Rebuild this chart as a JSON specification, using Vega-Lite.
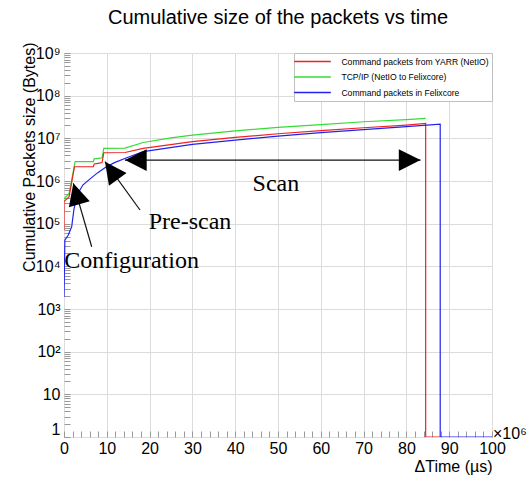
{
  "$schema": "https://vega.github.io/schema/vega-lite/v6.json",
  "width": 428,
  "height": 384,
  "autosize": {"type": "none"},
  "padding": {"left": 64, "top": 53, "right": 38, "bottom": 41},
  "background": "white",
  "title": {"text": "Cumulative size of the packets vs time", "font": "Liberation Sans", "fontSize": 20, "fontWeight": "normal", "color": "#000", "anchor": "middle", "frame": "group", "offset": 14},
  "config": {
    "view": {"stroke": "#b4b4b4", "strokeWidth": 1},
    "axis": {"labelFont": "Liberation Sans", "labelFontSize": 16, "labelColor": "#000", "titleFont": "Liberation Sans", "titleFontSize": 16, "titleFontWeight": "normal", "titleColor": "#000", "gridColor": "#dcdcdc", "tickColor": "#999", "domain": false, "labelOverlap": false, "labelFlush": false, "tickSize": -6}
  },
  "datasets": {
    "curves": [
      {"series": "TCP/IP (NetIO to Felixcore)", "i": 0, "t": 0, "bytes": 380000},
      {"series": "TCP/IP (NetIO to Felixcore)", "i": 1, "t": 1.2, "bytes": 510000},
      {"series": "TCP/IP (NetIO to Felixcore)", "i": 2, "t": 2.6, "bytes": 2830000},
      {"series": "TCP/IP (NetIO to Felixcore)", "i": 3, "t": 6.85, "bytes": 2830000},
      {"series": "TCP/IP (NetIO to Felixcore)", "i": 4, "t": 7.05, "bytes": 3300000},
      {"series": "TCP/IP (NetIO to Felixcore)", "i": 5, "t": 8.0, "bytes": 3400000},
      {"series": "TCP/IP (NetIO to Felixcore)", "i": 6, "t": 8.9, "bytes": 3500000},
      {"series": "TCP/IP (NetIO to Felixcore)", "i": 7, "t": 9.3, "bytes": 5840000},
      {"series": "TCP/IP (NetIO to Felixcore)", "i": 8, "t": 14.25, "bytes": 5900000},
      {"series": "TCP/IP (NetIO to Felixcore)", "i": 9, "t": 18.5, "bytes": 8000000},
      {"series": "TCP/IP (NetIO to Felixcore)", "i": 10, "t": 25, "bytes": 10200000},
      {"series": "TCP/IP (NetIO to Felixcore)", "i": 11, "t": 30, "bytes": 11900000},
      {"series": "TCP/IP (NetIO to Felixcore)", "i": 12, "t": 40, "bytes": 15000000},
      {"series": "TCP/IP (NetIO to Felixcore)", "i": 13, "t": 50, "bytes": 18000000},
      {"series": "TCP/IP (NetIO to Felixcore)", "i": 14, "t": 60, "bytes": 21000000},
      {"series": "TCP/IP (NetIO to Felixcore)", "i": 15, "t": 70, "bytes": 24500000},
      {"series": "TCP/IP (NetIO to Felixcore)", "i": 16, "t": 80, "bytes": 27500000},
      {"series": "TCP/IP (NetIO to Felixcore)", "i": 17, "t": 84.5, "bytes": 29400000},
      {"series": "Command packets from YARR (NetIO)", "i": 0, "t": 0, "bytes": 70000},
      {"series": "Command packets from YARR (NetIO)", "i": 1, "t": 0, "bytes": 330000},
      {"series": "Command packets from YARR (NetIO)", "i": 2, "t": 1.2, "bytes": 430000},
      {"series": "Command packets from YARR (NetIO)", "i": 3, "t": 2.45, "bytes": 2160000},
      {"series": "Command packets from YARR (NetIO)", "i": 4, "t": 6.85, "bytes": 2160000},
      {"series": "Command packets from YARR (NetIO)", "i": 5, "t": 7.05, "bytes": 2500000},
      {"series": "Command packets from YARR (NetIO)", "i": 6, "t": 8.0, "bytes": 2600000},
      {"series": "Command packets from YARR (NetIO)", "i": 7, "t": 8.9, "bytes": 2700000},
      {"series": "Command packets from YARR (NetIO)", "i": 8, "t": 9.3, "bytes": 4600000},
      {"series": "Command packets from YARR (NetIO)", "i": 9, "t": 14.25, "bytes": 4650000},
      {"series": "Command packets from YARR (NetIO)", "i": 10, "t": 18.5, "bytes": 5800000},
      {"series": "Command packets from YARR (NetIO)", "i": 11, "t": 30, "bytes": 8400000},
      {"series": "Command packets from YARR (NetIO)", "i": 12, "t": 40, "bytes": 10500000},
      {"series": "Command packets from YARR (NetIO)", "i": 13, "t": 50, "bytes": 12800000},
      {"series": "Command packets from YARR (NetIO)", "i": 14, "t": 60, "bytes": 15200000},
      {"series": "Command packets from YARR (NetIO)", "i": 15, "t": 70, "bytes": 17700000},
      {"series": "Command packets from YARR (NetIO)", "i": 16, "t": 80, "bytes": 20500000},
      {"series": "Command packets from YARR (NetIO)", "i": 17, "t": 84.5, "bytes": 22400000},
      {"series": "Command packets from YARR (NetIO)", "i": 18, "t": 84.5, "bytes": 1},
      {"series": "Command packets from YARR (NetIO)", "i": 19, "t": 87.9, "bytes": 1},
      {"series": "Command packets in Felixcore", "i": 0, "t": 0, "bytes": 1900},
      {"series": "Command packets in Felixcore", "i": 1, "t": 0.2, "bytes": 41000},
      {"series": "Command packets in Felixcore", "i": 2, "t": 1.0, "bytes": 54000},
      {"series": "Command packets in Felixcore", "i": 3, "t": 1.8, "bytes": 85000},
      {"series": "Command packets in Felixcore", "i": 4, "t": 2.3, "bytes": 209000},
      {"series": "Command packets in Felixcore", "i": 5, "t": 2.6, "bytes": 300000},
      {"series": "Command packets in Felixcore", "i": 6, "t": 3.25, "bytes": 510000},
      {"series": "Command packets in Felixcore", "i": 7, "t": 4.4, "bytes": 805000},
      {"series": "Command packets in Felixcore", "i": 8, "t": 5.95, "bytes": 1090000},
      {"series": "Command packets in Felixcore", "i": 9, "t": 7.9, "bytes": 1570000},
      {"series": "Command packets in Felixcore", "i": 10, "t": 9.9, "bytes": 2160000},
      {"series": "Command packets in Felixcore", "i": 11, "t": 11.8, "bytes": 2690000},
      {"series": "Command packets in Felixcore", "i": 12, "t": 14.5, "bytes": 3450000},
      {"series": "Command packets in Felixcore", "i": 13, "t": 18.5, "bytes": 4900000},
      {"series": "Command packets in Felixcore", "i": 14, "t": 30, "bytes": 7200000},
      {"series": "Command packets in Felixcore", "i": 15, "t": 40, "bytes": 9100000},
      {"series": "Command packets in Felixcore", "i": 16, "t": 50, "bytes": 11300000},
      {"series": "Command packets in Felixcore", "i": 17, "t": 60, "bytes": 13600000},
      {"series": "Command packets in Felixcore", "i": 18, "t": 70, "bytes": 16000000},
      {"series": "Command packets in Felixcore", "i": 19, "t": 80, "bytes": 18800000},
      {"series": "Command packets in Felixcore", "i": 20, "t": 87.9, "bytes": 21500000},
      {"series": "Command packets in Felixcore", "i": 21, "t": 87.9, "bytes": 1},
      {"series": "Command packets in Felixcore", "i": 22, "t": 100, "bytes": 1}
    ],
    "arrows": [
      {"t": 14.25, "bytes": 3100000, "t2": 83.3, "bytes2": 3100000},
      {"t": 17.76, "bytes": 209000, "t2": 9.58, "bytes2": 2830000},
      {"t": 6.47, "bytes": 28800, "t2": 2.18, "bytes2": 883000}
    ],
    "notes": [
      {"label": "Scan", "t": 49.5, "bytes": 582000},
      {"label": "Pre-scan", "t": 29.44, "bytes": 76200},
      {"label": "Configuration", "t": 15.8, "bytes": 9290}
    ]
  },
  "layer": [
    {
      "data": {"name": "curves"},
      "transform": [{"filter": "datum.series == 'TCP/IP (NetIO to Felixcore)'"}],
      "mark": {"type": "line", "strokeWidth": 1.2, "clip": true},
      "encoding": {
        "x": {"field": "t", "type": "quantitative", "scale": {"domain": [0, 100], "nice": false, "zero": true},
          "axis": {"title": "ΔTime (µs)", "titleAnchor": "end", "titlePadding": 2, "labelOverlap": false, "labelBound": false, "tickCount": 500, "format": "d",
            "values": [0,2,4,6,8,10,12,14,16,18,20,22,24,26,28,30,32,34,36,38,40,42,44,46,48,50,52,54,56,58,60,62,64,66,68,70,72,74,76,78,80,82,84,86,88,90,92,94,96,98,100],
            "labelExpr": "indexof([0,10,20,30,40,50,60,70,80,90,100], datum.value) >= 0 ? datum.label : ''",
            "labelPadding": 9,
            "gridOpacity": {"condition": {"test": "indexof([0,10,20,30,40,50,60,70,80,90,100], datum.value) >= 0", "value": 1}, "value": 0}}},
        "y": {"field": "bytes", "type": "quantitative", "scale": {"type": "log", "domain": [1, 1000000000], "nice": false},
          "axis": {"title": "Cumulative Packets size (Bytes)", "titleAnchor": "end", "titlePadding": -2, "titleY": -11, "labelOverlap": false, "tickCount": 500,
            "values": [1,2,3,4,5,6,7,8,9,10,20,30,40,50,60,70,80,90,100,200,300,400,500,600,700,800,900,1000,2000,3000,4000,5000,6000,7000,8000,9000,10000,20000,30000,40000,50000,60000,70000,80000,90000,100000,200000,300000,400000,500000,600000,700000,800000,900000,1000000,2000000,3000000,4000000,5000000,6000000,7000000,8000000,9000000,10000000,20000000,30000000,40000000,50000000,60000000,70000000,80000000,90000000,100000000,200000000,300000000,400000000,500000000,600000000,700000000,800000000,900000000,1000000000],
            "labelExpr": "datum.value == 1 ? '1' : datum.value == 10 ? '10' : datum.value == 100 ? '10²' : datum.value == 1000 ? '10³' : datum.value == 10000 ? '10⁴' : datum.value == 100000 ? '10⁵' : datum.value == 1000000 ? '10⁶' : datum.value == 10000000 ? '10⁷' : datum.value == 100000000 ? '10⁸' : datum.value == 1000000000 ? '10⁹' : ''",
            "labelPadding": 10,
            "labelBaseline": {"condition": {"test": "datum.value == 1", "value": "bottom"}, "value": "middle"},
            "gridOpacity": {"condition": {"test": "indexof([1,10,100,1000,10000,100000,1000000,10000000,100000000,1000000000], datum.value) >= 0", "value": 1}, "value": 0}}},
        "color": {"field": "series", "type": "nominal",
          "scale": {"domain": ["Command packets from YARR (NetIO)", "TCP/IP (NetIO to Felixcore)", "Command packets in Felixcore"], "range": ["#ee2222", "#33dd33", "#2222ee"]},
          "legend": {"title": null, "orient": "top-right", "offset": 0, "padding": 3, "fillColor": "white", "strokeColor": "#c0c0c0", "symbolType": "M-4,0L4,0", "symbolSize": 84, "symbolStrokeWidth": 1.5, "symbolOffset": 10, "labelOffset": 23.4, "labelFont": "Liberation Sans", "labelFontSize": 8.6, "labelColor": "#000", "labelExpr": "datum.label + '\u00a0\u00a0\u00a0\u00a0'", "rowPadding": 4.5, "labelLimit": 300, "cornerRadius": 0}},
        "order": {"field": "i", "type": "quantitative"}
      }
    },
    {
      "data": {"name": "curves"},
      "transform": [{"filter": "datum.series == 'Command packets from YARR (NetIO)'"}],
      "mark": {"type": "line", "strokeWidth": 1.2, "clip": true},
      "encoding": {
        "x": {"field": "t", "type": "quantitative"},
        "y": {"field": "bytes", "type": "quantitative"},
        "color": {"field": "series", "type": "nominal"},
        "order": {"field": "i", "type": "quantitative"}
      }
    },
    {
      "data": {"name": "curves"},
      "transform": [{"filter": "datum.series == 'Command packets in Felixcore'"}],
      "mark": {"type": "line", "strokeWidth": 1.2, "clip": true},
      "encoding": {
        "x": {"field": "t", "type": "quantitative"},
        "y": {"field": "bytes", "type": "quantitative"},
        "color": {"field": "series", "type": "nominal"},
        "order": {"field": "i", "type": "quantitative"}
      }
    },
    {
      "data": {"name": "arrows"},
      "mark": {"type": "rule", "color": "#111", "strokeWidth": 1.2},
      "encoding": {
        "x": {"field": "t", "type": "quantitative"},
        "y": {"field": "bytes", "type": "quantitative"},
        "x2": {"field": "t2"},
        "y2": {"field": "bytes2"}
      }
    },
    {
      "data": {"values": [{}]},
      "mark": {"type": "point", "shape": "M0,0L2,-1L2,1Z", "filled": true, "color": "#000", "opacity": 1, "size": 471, "angle": 0},
      "encoding": {"x": {"datum": 14.25, "type": "quantitative"}, "y": {"datum": 3100000, "type": "quantitative"}}
    },
    {
      "data": {"values": [{}]},
      "mark": {"type": "point", "shape": "M0,0L2,-1L2,1Z", "filled": true, "color": "#000", "opacity": 1, "size": 471, "angle": 180},
      "encoding": {"x": {"datum": 83.3, "type": "quantitative"}, "y": {"datum": 3100000, "type": "quantitative"}}
    },
    {
      "data": {"values": [{}]},
      "mark": {"type": "point", "shape": "M0,0L2,-1L2,1Z", "filled": true, "color": "#000", "opacity": 1, "size": 471, "angle": 54},
      "encoding": {"x": {"datum": 9.58, "type": "quantitative"}, "y": {"datum": 2830000, "type": "quantitative"}}
    },
    {
      "data": {"values": [{}]},
      "mark": {"type": "point", "shape": "M0,0L2,-1L2,1Z", "filled": true, "color": "#000", "opacity": 1, "size": 471, "angle": 74},
      "encoding": {"x": {"datum": 2.18, "type": "quantitative"}, "y": {"datum": 883000, "type": "quantitative"}}
    },
    {
      "data": {"name": "notes"},
      "mark": {"type": "text", "font": "Liberation Serif", "fontSize": 24, "align": "center", "baseline": "alphabetic", "color": "#000"},
      "encoding": {
        "x": {"field": "t", "type": "quantitative"},
        "y": {"field": "bytes", "type": "quantitative"},
        "text": {"field": "label"}
      }
    },
    {
      "data": {"values": [{}]},
      "mark": {"type": "text", "text": "×10⁶", "font": "Liberation Sans", "fontSize": 16, "align": "left", "baseline": "middle", "dx": 1, "dy": -3, "color": "#000"},
      "encoding": {"x": {"datum": 100, "type": "quantitative"}, "y": {"datum": 1, "type": "quantitative"}}
    }
  ]
}
